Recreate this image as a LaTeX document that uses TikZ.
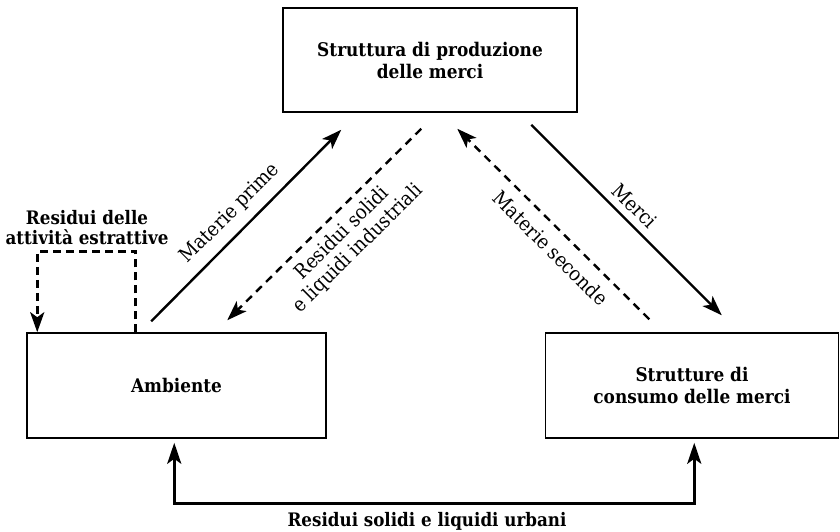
\documentclass[tikz,border=0pt]{standalone}
\usepackage{fontspec}
\setmainfont{DejaVuSerifCondensed.ttf}[BoldFont=DejaVuSerifCondensed-Bold.ttf]
\usetikzlibrary{arrows.meta,calc}

\begin{document}
\begin{tikzpicture}[x=1pt,y=-1pt,
  box/.style={draw, line width=1.5pt, align=center, inner sep=0pt,
    font=\fontsize{18.8}{22}\selectfont\bfseries},
  tip/.style={-{Stealth[length=20pt,width=14pt,inset=5pt]}},
  twotips/.style={{Stealth[length=21pt,width=14pt,inset=5pt]}-{Stealth[length=21pt,width=14pt,inset=5pt]}},
  flow/.style={line width=2.4pt},
  dflow/.style={line width=2.4pt, dash pattern=on 8pt off 6pt},
  dthick/.style={line width=3.2pt, dash pattern=on 8pt off 5pt},
  lbl/.style={font=\fontsize{20}{22}\selectfont, sloped, align=center, inner sep=2pt},
  blbl/.style={font=\fontsize{18.6}{20}\selectfont\bfseries, align=center, inner sep=0pt},
]
\useasboundingbox (0,0) rectangle (840,531);

% the three structures
\node[box, minimum width=294pt, minimum height=104pt] (prod) at (430,60)
  {Struttura di produzione\\delle merci};
\node[box, minimum width=299pt, minimum height=105pt] (amb) at (176.5,385.5)
  {Ambiente};
\node[box, minimum width=293pt, minimum height=105pt] (cons) at (692,385.5)
  {Strutture di\\consumo delle merci};

% end points of the flows
\coordinate (mp1) at ($(amb.north west)+(125,-11)$);
\coordinate (mp2) at ($(prod.south west)+(59,17)$);
\coordinate (ri1) at ($(prod.south west)+(139,16)$);
\coordinate (ri2) at ($(amb.north west)+(201,-12)$);
\coordinate (ms1) at ($(cons.north west)+(104.5,-13)$);
\coordinate (ms2) at ($(prod.south west)+(175,16)$);
\coordinate (me1) at ($(prod.south west)+(249,12)$);
\coordinate (me2) at ($(cons.north west)+(177,-17)$);
\coordinate (fb1) at ($(amb.north west)+(109.5,0)$);
\coordinate (fb2) at ($(amb.north west)+(11,0)$);
\coordinate (ub1) at ($(amb.south west)+(148,4)$);
\coordinate (ub2) at ($(cons.south west)+(149.5,4)$);

% flows between the structures
\draw[flow, tip] (mp1) -- node[lbl, above=7pt, pos=0.49] (lmp) {Materie prime} (mp2);
\draw[dflow, tip] (ri1) -- node[lbl, below=6pt, pos=0.475] (lri) {Residui solidi\\e liquidi industriali} (ri2);
\draw[dflow, tip] (ms1) -- node[lbl, below=8pt, pos=0.443] (lms) {Materie seconde} (ms2);
\draw[flow, tip] (me1) -- node[lbl, above=5pt, pos=0.484] (lme) {Merci} (me2);

% extraction residues back into the environment
\draw[dthick, tip] (fb1) -- ++(0,-81) -| (fb2);
\node[blbl] (lfb) at (87,228) {Residui delle\\attività estrattive};

% urban residues
\draw[line width=3pt, twotips] (ub1) -- ++(0,61) -| (ub2);
\node[blbl] (lub) at (427,521) {Residui solidi e liquidi urbani};
\end{tikzpicture}
\end{document}
